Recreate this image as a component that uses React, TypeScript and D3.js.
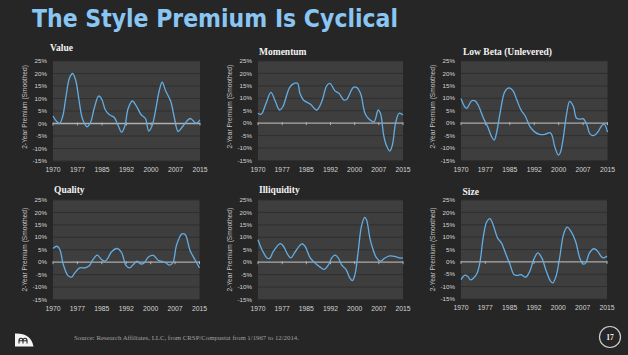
import React from "react";
import * as d3 from "d3";

// ---------- DATA (year, 2-year premium %) ----------
const xTickLabels = ["1970", "1977", "1985", "1992", "2000", "2007", "2015"];
const yTicks = [25, 20, 15, 10, 5, 0, -5, -10, -15];

const valueSeries: [number, number][] = [
  [1970, 3], [1971, 1], [1972, 0], [1973, 3], [1974, 11], [1975, 18], [1976, 20], [1977, 17],
  [1978, 9], [1979, 2], [1980.4, -1.3], [1981.5, 0.5], [1982.6, 6], [1984, 11], [1985, 9.5],
  [1986, 5.5], [1987.3, 3.5], [1988.7, 2.5], [1990, -1], [1991, -3.5], [1992, -1], [1993, 6],
  [1994.3, 9], [1995.5, 7], [1997, 3.5], [1998.3, 2], [1999.3, -3], [2000.3, -1], [2001.5, 6],
  [2002.5, 13], [2003.4, 16.5], [2004.5, 13], [2006, 9], [2007.2, 2], [2008.3, -3.2],
  [2009.5, -1.5], [2011, 1], [2012, 2], [2013, 1], [2013.8, 0], [2014.4, 0.5], [2015, 1.5],
];

const momentumSeries: [number, number][] = [
  [1970, 4], [1971, 3.6], [1972.5, 8], [1974, 12.4], [1975.4, 8.7], [1976.7, 5.3], [1977.7, 6.6],
  [1979.8, 14.3], [1981.2, 16], [1982.3, 16], [1983, 12], [1984.1, 9.3], [1986.2, 7.7],
  [1988.2, 5.3], [1989.8, 8.7], [1991.3, 15], [1992.3, 16], [1993.9, 13], [1995.1, 12],
  [1996.7, 9.3], [1997.5, 9.5], [1999.6, 14.4], [2000.6, 14.4], [2001.8, 12], [2003.2, 4],
  [2004.2, 2], [2006, 0.6], [2007.3, 5.3], [2008, 4], [2009, -4.8], [2009.8, -8.8],
  [2010.9, -11.2], [2011.7, -8.8], [2012.7, 0], [2013.8, 4], [2015, 3.3],
];

const lowBetaSeries: [number, number][] = [
  [1970, 9.9], [1971.2, 6.5], [1971.8, 6], [1973.3, 9], [1974.3, 9], [1975.3, 7.2],
  [1976.9, 2], [1978.2, -1.4], [1979.4, -5.4], [1980.2, -6.8], [1980.9, -4], [1982, 4],
  [1983.5, 12.8], [1984.8, 14.2], [1986, 13], [1987.1, 9.5], [1988.4, 5.4], [1989.8, 2.7],
  [1991.2, -1.4], [1992.7, -3.6], [1994.1, -4.5], [1995.8, -4.5], [1997.4, -3.8],
  [1998.1, -5.5], [1998.8, -9.5], [1999.9, -12.8], [2000.4, -12.2], [2001.4, -6.1],
  [2002.4, 3.4], [2003.4, 8.8], [2004.5, 6.8], [2005.5, 2], [2006.7, 1.6], [2007.5, 1.8],
  [2008.6, -0.4], [2009.6, -4.3], [2010.8, -5], [2012.1, -3.4], [2013.2, -1], [2014, -0.4],
  [2015, -3.6],
];

const qualitySeries: [number, number][] = [
  [1970, 5.5], [1971.2, 6.4], [1972.1, 5.1], [1973.1, -0.7], [1974.6, -5.4], [1975.7, -6],
  [1976.7, -4.3], [1978.2, -2.3], [1979.8, -2.3], [1981.3, -1.2], [1982.3, 1.1],
  [1983.6, 2.8], [1984.9, 1.1], [1985.9, 0.4], [1986.7, 1.3], [1988, 4.2], [1989.7, 5.5],
  [1991.1, 3.8], [1992.4, -1.3], [1993.6, -2.3], [1994.7, -0.9], [1995.9, 0.4],
  [1996.9, -0.7], [1998, -0.3], [1999.3, 2.1], [2000.8, 2.7], [2002.3, 0.8], [2003.9, 0.1],
  [2004.7, -0.3], [2005.8, -1.2], [2006.8, -0.3], [2008, 7.1], [2009.6, 11.4],
  [2010.6, 11.1], [2012.1, 4.7], [2013.7, 0.8], [2015, -2.3],
];

const illiquiditySeries: [number, number][] = [
  [1970, 9], [1971.2, 5.1], [1972.8, 1.7], [1973.6, 1.5], [1974.8, 4.4], [1976.9, 7.5],
  [1977.9, 6.4], [1979.2, 3.1], [1980.2, 1.7], [1981.5, 4.1], [1983.6, 7.4], [1984.6, 6.4],
  [1986.2, 1.7], [1987.7, -0.3], [1989.3, -2], [1990.6, -2.9], [1991.8, -1.2], [1992.9, 1.7],
  [1993.9, 2.8], [1994.9, 1.7], [1996, -1.2], [1997.3, -2.9], [1998.5, -6.3], [1999.3, -7.4],
  [2000.1, -4.9], [2001.1, 4.4], [2002.1, 14.4], [2003.1, 18], [2003.7, 17], [2004.7, 9.8],
  [2005.7, 5.1], [2006.8, 1.7], [2008, 0.4], [2009.4, 1.7], [2010.9, 2.5], [2012.4, 2.3],
  [2013.9, 1.7], [2015, 1.7],
];

const sizeSeries: [number, number][] = [
  [1970, -7.2], [1971.2, -5.4], [1972, -5.8], [1973, -7.3], [1974.1, -6.2], [1975, -4.5],
  [1975.8, -0.5], [1976.9, 10.3], [1977.9, 16.1], [1978.9, 17.5], [1979.9, 15], [1981.3, 9.6],
  [1982.5, 7.6], [1983.7, 3.6], [1985.1, -1.1], [1986.4, -5.2], [1987.6, -5.4], [1988.6, -5.2],
  [1989.9, -6.2], [1991.2, -3.8], [1992.4, 0.9], [1993.7, 3.6], [1994.9, 1.6], [1996.3, -3.8],
  [1997.6, -7.8], [1998.3, -8.5], [1999.3, -5.8], [2000.4, 1.6], [2001.6, 11], [2002.7, 14],
  [2003.9, 12.3], [2005.3, 8.3], [2006.6, 1.6], [2007.6, -0.9], [2008.4, -0.5], [2009.6, 3.6],
  [2011, 5.3], [2012, 4.5], [2013.2, 2.2], [2014, 1.6], [2015, 2.4],
];

const panelTitles = ["Value", "Momentum", "Low Beta (Unlevered)", "Quality", "Illiquidity", "Size"];
const panelData = [valueSeries, momentumSeries, lowBetaSeries, qualitySeries, illiquiditySeries, sizeSeries];

// ---------- LAYOUT ----------
const layout = [
  { x0: 53, x1: 200, y0: 61, y1: 161, tx: 50, ty: 50.5 },
  { x0: 258, x1: 403, y0: 61, y1: 160.5, tx: 259, ty: 54.5 },
  { x0: 461, x1: 607.5, y0: 61, y1: 160.5, tx: 463, ty: 54.5 },
  { x0: 53, x1: 199.5, y0: 200, y1: 299.5, tx: 54, ty: 192.5 },
  { x0: 258, x1: 403, y0: 200, y1: 299.5, tx: 259, ty: 193 },
  { x0: 461, x1: 607, y0: 200, y1: 299, tx: 462.5, ty: 195 },
];

const BG = "#262626";
const PLOT_BG = "#3e3e3e";
const GRID = "#2f2f2f";
const LINE = "#63ade3";
const TEXT = "#d4d4d4";

function Panel({ idx }: { idx: number }) {
  const L = layout[idx];
  const data = panelData[idx];
  const x = d3.scaleLinear().domain([1970, 2015]).range([L.x0, L.x1]);
  const y = d3.scaleLinear().domain([-15, 25]).range([L.y1, L.y0]);
  const xt = d3.scalePoint<string>().domain(xTickLabels).range([L.x0, L.x1]);
  const line = d3
    .line<[number, number]>()
    .x((d) => x(d[0]))
    .y((d) => y(d[1]))
    .curve(d3.curveCatmullRom.alpha(0.5));
  const cy = (L.y0 + L.y1) / 2;
  return (
    <g>
      <rect x={L.x0} y={L.y0} width={L.x1 - L.x0} height={L.y1 - L.y0} fill={PLOT_BG} />
      {yTicks.map((t) => (
        <line key={t} x1={L.x0} x2={L.x1} y1={y(t)} y2={y(t)} stroke={GRID} strokeWidth={1} />
      ))}
      <line x1={L.x0} x2={L.x1} y1={y(0)} y2={y(0)} stroke="#b0b0b0" strokeWidth={1.3} />
      {xTickLabels.map((lab) => (
        <line key={lab} x1={xt(lab)} x2={xt(lab)} y1={y(0) - 1} y2={y(0) + 2} stroke="#b0b0b0" strokeWidth={1} />
      ))}
      <path d={line(data) || ""} fill="none" stroke={LINE} strokeWidth={1.3} />
      {yTicks.map((t) => (
        <text key={t} x={L.x0 - 6} y={y(t)} dy="0.35em" textAnchor="end" fontSize={6.2} fill={TEXT}
          fontFamily="Liberation Sans, Arial, sans-serif">{t + "%"}</text>
      ))}
      {xTickLabels.map((lab) => (
        <text key={lab} x={xt(lab)} y={L.y1 + 11} textAnchor="middle" fontSize={6.8} fill={TEXT}
          fontFamily="Liberation Sans, Arial, sans-serif">{lab}</text>
      ))}
      <text transform={`translate(${L.x0 - 28},${cy - (idx < 3 ? 4 : 0)}) rotate(-90)`} textAnchor="middle"
        dy="0.35em" fontSize={6.6} fill="#c4c4c4" fontFamily="Liberation Sans, Arial, sans-serif">
        2-Year Premium (Smoothed)
      </text>
      <text x={L.tx} y={L.ty} fontSize={9.5} fontWeight="bold" fill="#f2f2f2"
        fontFamily="Liberation Serif, Times New Roman, serif">{panelTitles[idx]}</text>
    </g>
  );
}

export default function App() {
  return (
    <svg width={628} height={355} style={{ position: "absolute", left: 0, top: 0 }}>
      <rect x={0} y={0} width={628} height={355} fill={BG} />
      <text x={32} y={26.5} fontSize={24} fontWeight="bold" fill="#8ac6f4" textLength={366}
        lengthAdjust="spacingAndGlyphs" fontFamily="DejaVu Sans, Verdana, sans-serif">
        The Style Premium Is Cyclical
      </text>
      {layout.map((_, i) => (
        <Panel key={i} idx={i} />
      ))}
      {/* footer */}
      <path d="M15,346.5 L15,333.5 Q31,333 33.5,346.5 Z" fill="#f4f4f4" />
      <path d="M19,343.5 L19,340.5 Q19,338.3 21,338.3 Q23,338.3 23,340.5 L23,343.5 M23,340.5 Q23,338.3 25,338.3 Q27,338.3 27,340.5 L27,343.5 M18.5,340.8 L27.5,340.8"
        fill="none" stroke="#262626" strokeWidth={1.1} />
      <text x={74} y={340} fontSize={6.8} fill="#a0a0a0" fontFamily="Liberation Serif, Georgia, serif">
        Source: Research Affiliates, LLC, from CRSP/Compustat from 1/1967 to 12/2014.
      </text>
      <circle cx={610} cy={337} r={10.5} fill="none" stroke="#cfcfcf" strokeWidth={1.2} />
      <text x={610} y={339.5} fontSize={7.5} fontWeight="bold" fill="#f2f2f2" textAnchor="middle"
        fontFamily="Liberation Serif, Georgia, serif">17</text>
    </svg>
  );
}
